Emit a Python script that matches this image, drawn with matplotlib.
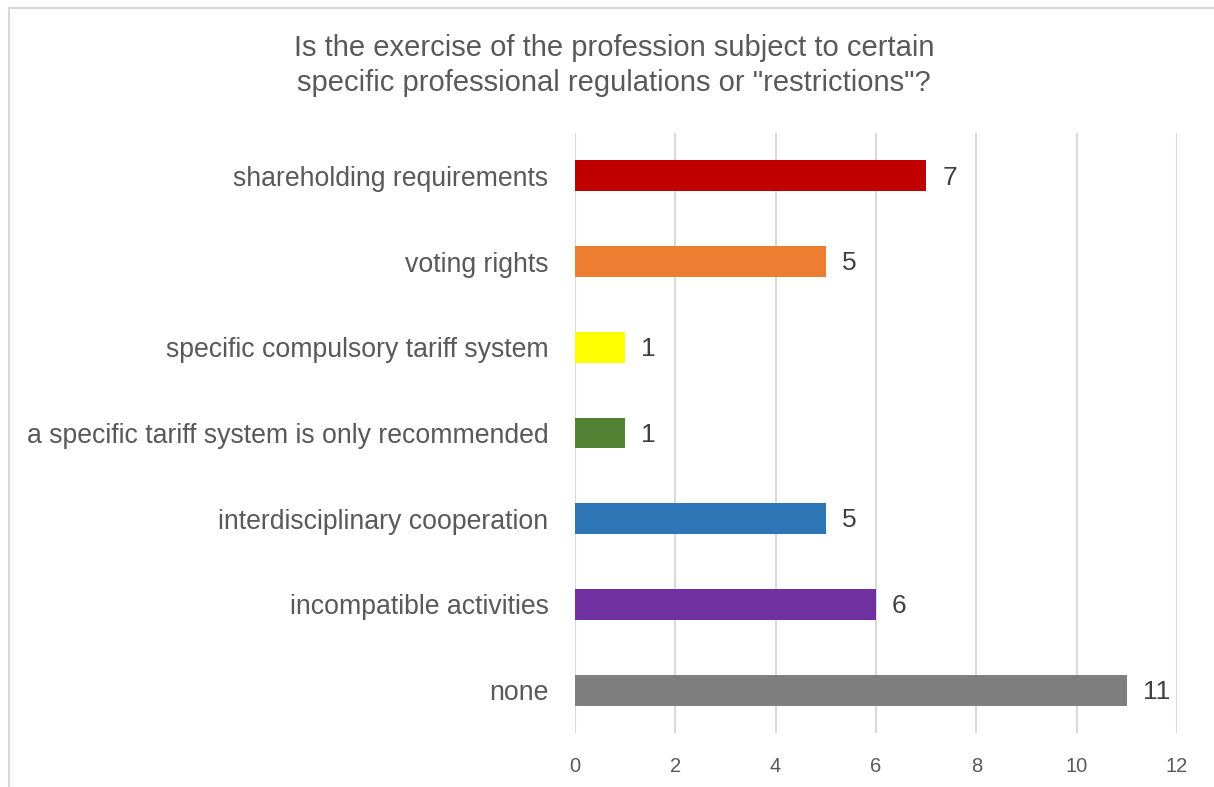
import matplotlib
matplotlib.use("Agg")
import matplotlib.pyplot as plt
from matplotlib.patches import Rectangle

categories = [
    "shareholding requirements",
    "voting rights",
    "specific compulsory tariff system",
    "a specific tariff system is only recommended",
    "interdisciplinary cooperation",
    "incompatible activities",
    "none",
]
counts = [7, 5, 1, 1, 5, 6, 11]
colors = ["#c00000", "#ed7d31", "#ffff00", "#548235", "#2e75b6", "#7030a0", "#7f7f7f"]
x_ticks = [0, 2, 4, 6, 8, 10, 12]

plt.rcParams["font.family"] = ["Liberation Sans", "DejaVu Sans"]

fig = plt.figure(figsize=(12.14, 7.87), dpi=100)
ax = fig.add_axes([0.4736, 0.0686, 0.4959, 0.7624])

# outer chart border (only left/top edges fall inside the image)
fig.patches.append(Rectangle((9 / 1214, -0.1), 1.2, 1 - 8 / 787 + 0.1,
                             transform=fig.transFigure, fill=False,
                             edgecolor="#d9d9d9", linewidth=1.5))

ypos = list(range(len(categories)))
ax.barh(ypos, counts, height=0.36, color=colors, zorder=3)
for y, v in zip(ypos, counts):
    ax.text(v + 0.32, y + 0.02, str(v), va="center", ha="left", fontsize=19, color="#404040")

ax.set_ylim(len(categories) - 0.5, -0.5)
ax.set_xlim(0, 12)
ax.set_yticks(ypos)
ax.set_yticklabels(categories, fontsize=19.2, color="#595959")
ax.set_xticks(x_ticks)
ax.set_xticklabels([str(t) for t in x_ticks], fontsize=14.5, color="#595959")
ax.tick_params(axis="both", length=0)
ax.tick_params(axis="y", pad=19)
ax.tick_params(axis="x", pad=17)
ax.xaxis.grid(True, color="#d9d9d9", linewidth=1.5, zorder=0)
for s in ax.spines.values():
    s.set_visible(False)

fig.text(0.5058, 0.9168,
         "Is the exercise of the profession subject to certain\n"
         "specific professional regulations or \"restrictions\"?",
         ha="center", va="center", fontsize=21, color="#595959", linespacing=1.35)

fig.savefig("out.png", dpi=100)
